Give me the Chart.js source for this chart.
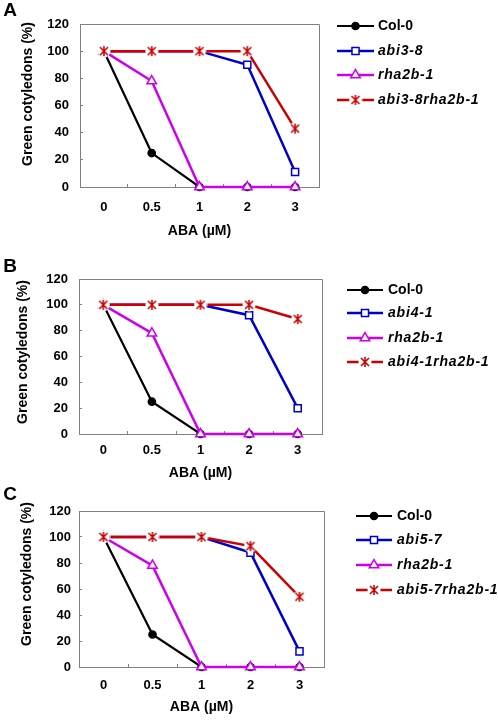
<!DOCTYPE html>
<html><head><meta charset="utf-8">
<script src="https://cdn.jsdelivr.net/npm/chart.js@4/dist/chart.umd.min.js"></script>
<style>
html,body{margin:0;padding:0;background:#fff;width:498px;height:724px;overflow:hidden}
canvas{position:absolute;left:0}
</style></head><body>
<canvas id="cA" width="498" height="240" style="top:0px"></canvas>
<canvas id="cB" width="498" height="240" style="top:240px"></canvas>
<canvas id="cC" width="498" height="244" style="top:480px"></canvas>
<script>
// ---- data ----
const categories = ['0', '0.5', '1', '2', '3'];
const yMin = 0, yMax = 120, yStep = 20;
const xTitle = 'ABA (µM)';
const yTitle = 'Green cotyledons (%)';

const namesA = ['Col-0', 'abi3-8', 'rha2b-1', 'abi3-8rha2b-1'];
const col0A = [100, 25, 0, 0, 0];
const abiA  = [100, 100, 100, 90, 11];
const rhaA  = [100, 78, 0, 0, 0];
const dblA  = [100, 100, 100, 100, 43];

const namesB = ['Col-0', 'abi4-1', 'rha2b-1', 'abi4-1rha2b-1'];
const col0B = [100, 25, 0, 0, 0];
const abiB  = [100, 100, 100, 92, 20];
const rhaB  = [100, 78, 0, 0, 0];
const dblB  = [100, 100, 100, 100, 89];

const namesC = ['Col-0', 'abi5-7', 'rha2b-1', 'abi5-7rha2b-1'];
const col0C = [100, 25, 0, 0, 0];
const abiC  = [100, 100, 100, 88, 12];
const rhaC  = [100, 78, 0, 0, 0];
const dblC  = [100, 100, 100, 93, 54];

// ---- styles ----
Chart.defaults.font.family = "'Liberation Sans', Arial, sans-serif";
Chart.defaults.color = '#000';

function makeStar(color){
  const c = document.createElement('canvas'); c.width = 14; c.height = 14;
  const x = c.getContext('2d');
  x.fillStyle = '#ffffff'; x.beginPath(); x.arc(7, 7, 6.5, 0, Math.PI*2); x.fill();
  x.strokeStyle = color; x.lineWidth = 1.6;
  x.beginPath();
  x.moveTo(3,3); x.lineTo(11,11);
  x.moveTo(11,3); x.lineTo(3,11);
  x.moveTo(7,2); x.lineTo(7,12);
  x.stroke();
  return c;
}
const starImg = makeStar('#CC0000');
const styles = [
  {color:'#000000', ps:'circle',   r:3.6, fill:'#000000', lw:2.2, italic:false},
  {color:'#0000CC', ps:'rect',     r:5,   fill:'#ffffff', lw:2.5, italic:true},
  {color:'#CC00EE', ps:'triangle', r:5.5, fill:'#ffffff', lw:2.5, italic:true},
  {color:'#CC0000', ps:starImg,    r:5.5, fill:'#CC0000', lw:2.5, italic:true}
];

function drawMarker(ctx, st, x, y){
  ctx.save();
  ctx.fillStyle = st.fill; ctx.strokeStyle = st.color; ctx.lineWidth = 1.5;
  if (st.ps === 'circle') {
    ctx.beginPath(); ctx.arc(x, y, st.r, 0, Math.PI*2); ctx.fill(); ctx.stroke();
  } else if (st.ps === 'rect') {
    const s = st.r * Math.SQRT1_2;
    ctx.beginPath(); ctx.rect(x-s, y-s, 2*s, 2*s); ctx.fill(); ctx.stroke();
  } else if (st.ps === 'triangle') {
    ctx.beginPath();
    for (let k=0;k<3;k++){ const a = k*2*Math.PI/3; const px = x + Math.sin(a)*st.r, py = y - Math.cos(a)*st.r; k?ctx.lineTo(px,py):ctx.moveTo(px,py); }
    ctx.closePath(); ctx.fill(); ctx.stroke();
  } else {
    ctx.drawImage(st.ps, x - st.ps.width/2, y - st.ps.height/2);
  }
  ctx.restore();
}

const decor = {
  id: 'decor',
  beforeDatasetsDraw(chart){
    const {ctx, chartArea:a} = chart;
    ctx.save(); ctx.strokeStyle = '#808080'; ctx.lineWidth = 1;
    ctx.beginPath();
    ctx.moveTo(Math.round(a.left), Math.round(a.top)+0.5); ctx.lineTo(Math.round(a.right)+0.5, Math.round(a.top)+0.5);
    ctx.lineTo(Math.round(a.right)+0.5, Math.round(a.bottom));
    ctx.stroke(); ctx.restore();
  },
  afterDraw(chart){
    const p = chart.options.plugins.decor;
    const ctx = chart.ctx;
    ctx.save();
    ctx.fillStyle = '#000';
    ctx.textAlign = 'center'; ctx.textBaseline = 'middle';
    ctx.font = "bold 19px 'Liberation Sans', Arial, sans-serif";
    ctx.fillText(p.letter, p.letterX, p.letterY);
    ctx.font = "bold 14px 'Liberation Sans', Arial, sans-serif";
    ctx.fillText(xTitle, (chart.chartArea.left + chart.chartArea.right)/2, p.xTitleY);
    ctx.save(); ctx.translate(p.yTitleX, p.yTitleY); ctx.rotate(-Math.PI/2);
    ctx.fillText(yTitle, 0, 0); ctx.restore();
    // legend
    ctx.textAlign = 'left';
    chart.data.datasets.forEach((ds, i) => {
      const st = styles[i]; const y = p.rows[i];
      ctx.save(); ctx.strokeStyle = st.color; ctx.lineWidth = st.lw;
      ctx.beginPath(); ctx.moveTo(p.lx0, y); ctx.lineTo(p.lx1, y); ctx.stroke(); ctx.restore();
      drawMarker(ctx, st, (p.lx0 + p.lx1)/2, y);
      ctx.font = (st.italic ? 'italic ' : '') + "bold 14px 'Liberation Sans', Arial, sans-serif";
      ctx.letterSpacing = st.italic ? '0.8px' : '0px';
      ctx.fillText(ds.label, p.tx, y);
    });
    ctx.restore();
  }
};

function makePanel(id, p, names, series){
  const datasets = series.map((vals, i) => ({
    label: names[i], data: vals,
    borderColor: styles[i].color, backgroundColor: styles[i].fill,
    borderWidth: styles[i].lw, pointStyle: styles[i].ps, pointRadius: styles[i].r,
    pointHoverRadius: styles[i].r,
    pointBorderWidth: 1.5, pointBackgroundColor: styles[i].fill, pointBorderColor: styles[i].color,
    tension: 0, clip: false, fill: false, order: 4 - i
  }));
  const gridOpts = {display:true, drawOnChartArea:false, drawTicks:true, tickLength:-3, color:'#808080', offset:true};
  return new Chart(document.getElementById(id), {
    type: 'line',
    data: {labels: categories, datasets},
    options: {
      responsive: false, animation: false, devicePixelRatio: 1,
      events: [],
      layout: {padding: {left: 0, right: 498 - p.R, top: p.T, bottom: 0}},
      plugins: {legend: {display:false}, tooltip: {enabled:false}, decor: p},
      scales: {
        x: {
          type: 'category', offset: true,
          grid: gridOpts,
          border: {display:true, color:'#808080', width:1},
          ticks: {padding: p.xPad, color:'#000', font:{size:13, weight:'bold'}, maxRotation:0, autoSkip:false},
          afterFit: s => { s.height = p.H - p.B; }
        },
        y: {
          min: yMin, max: yMax,
          grid: Object.assign({}, gridOpts, {offset:false}),
          border: {display:true, color:'#808080', width:1},
          ticks: {stepSize: yStep, padding: p.yPad, color:'#000', font:{size:13, weight:'bold'}},
          afterFit: s => { s.width = p.L; }
        }
      }
    },
    plugins: [decor]
  });
}

makePanel('cA', {H:240, L:80, R:319, T:24, B:187, xPad:16, yPad:14,
  letter:'A', letterX:10, letterY:11, xTitleY:231, yTitleX:28, yTitleY:94,
  lx0:337, lx1:374, tx:378, rows:[26,51,75,100]}, namesA, [col0A, abiA, rhaA, dblA]);
makePanel('cB', {H:240, L:79, R:322, T:39, B:194, xPad:12, yPad:14,
  letter:'B', letterX:10, letterY:27, xTitleY:233, yTitleX:23, yTitleY:112,
  lx0:347, lx1:383, tx:388, rows:[50,73,98,122]}, namesB, [col0B, abiB, rhaB, dblB]);
makePanel('cC', {H:244, L:79, R:324, T:31, B:187, xPad:14, yPad:11,
  letter:'C', letterX:10, letterY:15, xTitleY:227, yTitleX:27, yTitleY:94,
  lx0:356, lx1:392, tx:397, rows:[36,60,85,110]}, namesC, [col0C, abiC, rhaC, dblC]);
</script>
</body></html>
